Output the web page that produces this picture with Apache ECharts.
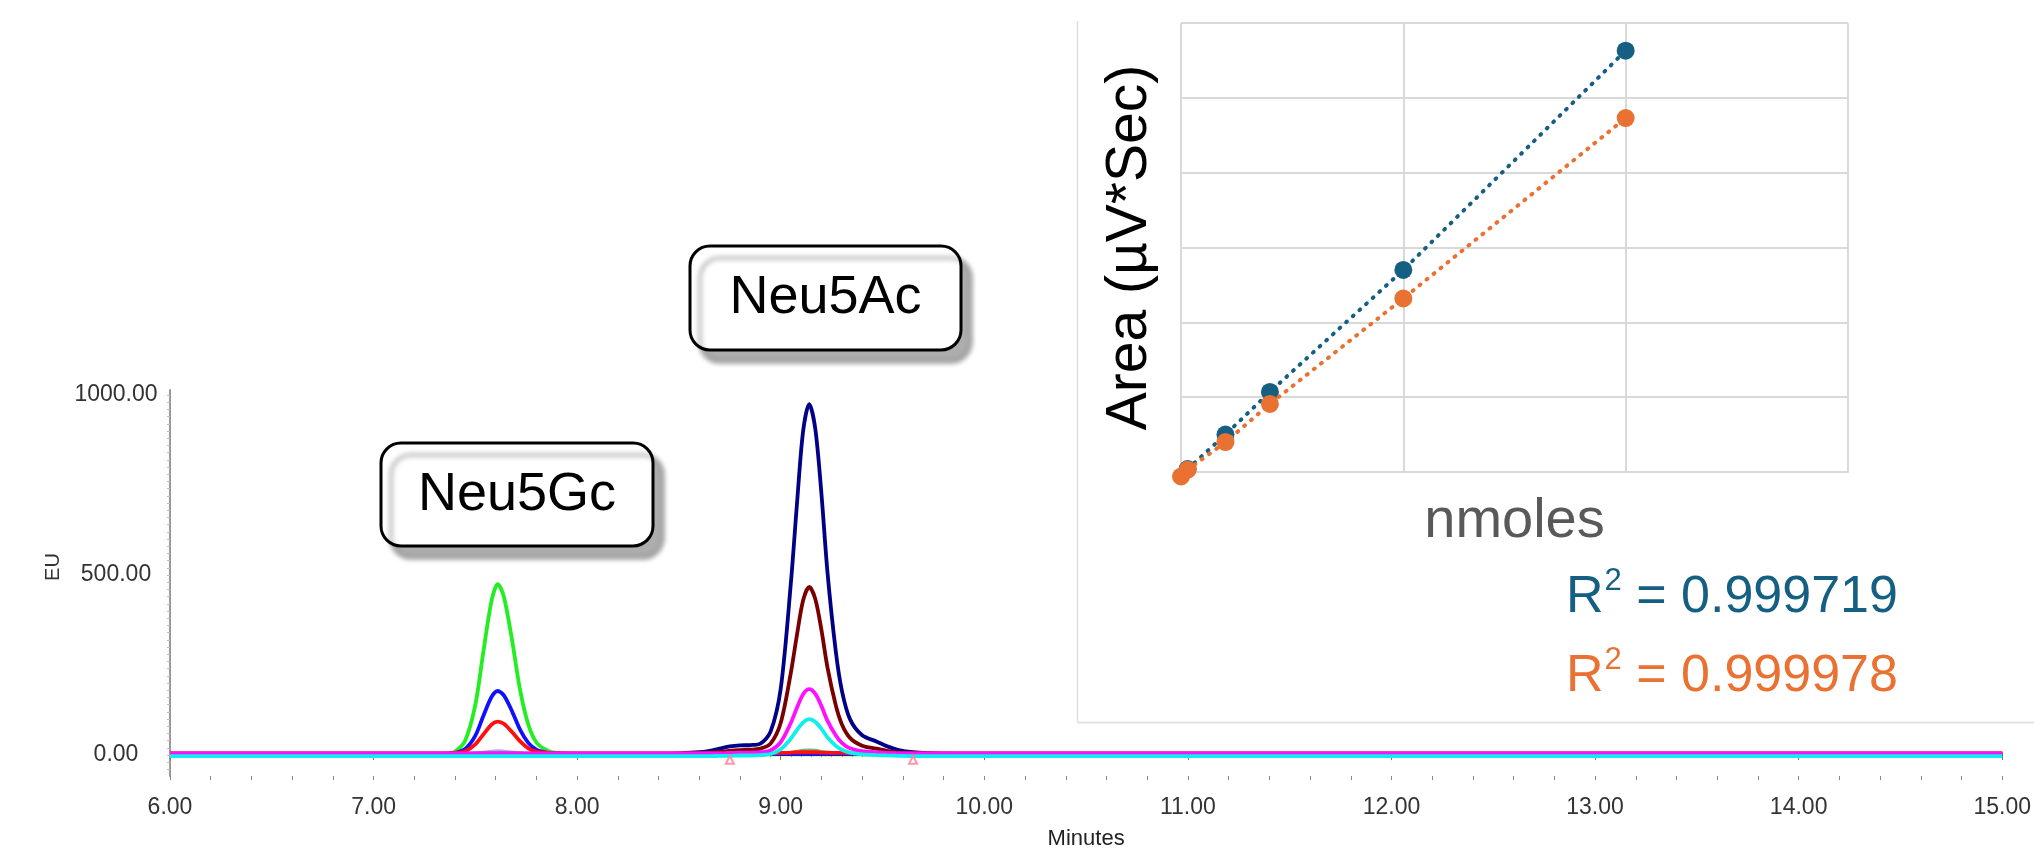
<!DOCTYPE html>
<html>
<head>
<meta charset="utf-8">
<script src="https://cdn.jsdelivr.net/npm/echarts/dist/echarts.min.js"></script>
<style>
html,body{margin:0;padding:0;background:#fff;}
#chart{width:2034px;height:857px;}
</style>
</head>
<body>
<div id="chart"></div>
<script>
// ---------- Chromatogram data (minutes vs EU) ----------
const times = [6.00, 6.50, 7.00, 7.20,
  7.30, 7.36, 7.40, 7.45, 7.50, 7.54, 7.58, 7.61, 7.64, 7.68, 7.72, 7.76, 7.80, 7.85, 7.90, 8.00,
  8.20, 8.40, 8.50,
  8.60, 8.65, 8.70, 8.75, 8.80, 8.85, 8.90, 8.95, 9.00, 9.05, 9.08, 9.11, 9.14, 9.17, 9.20, 9.23, 9.27, 9.30, 9.34, 9.40, 9.47, 9.52, 9.58, 9.65, 9.75,
  10.00, 11.00, 12.00, 13.00, 14.00, 15.00];

const greenTrace = [2, 2, 3, 2,
  2, 4, 10, 40, 140, 290, 430, 475, 440, 320, 180, 85, 35, 14, 6, 3,
  2, 2, 2,
  2, 2, 2, 2, 2, 2, 2, 2, 2, 2, 2, 2, 2, 2, 2, 2, 2, 2, 2, 2, 2, 2, 2, 2, 2,
  2, 2, 2, 2, 2, 2];
const blueTrace = [3, 3, 3, 3,
  3, 3, 6, 17, 54, 110, 162, 178, 166, 122, 70, 34, 15, 7, 4, 3,
  3, 3, 3,
  3, 3, 3, 3, 3, 3, 3, 3, 3, 3, 3, 3, 3, 3, 3, 3, 3, 3, 3, 3, 3, 3, 3, 3, 3,
  3, 3, 3, 3, 3, 3];
const redTrace = [5, 5, 5, 5,
  5, 5, 6, 11, 30, 58, 85, 93, 87, 64, 38, 19, 10, 7, 5, 5,
  5, 5, 5,
  5, 5, 5, 5, 5, 5, 5, 5, 6, 7, 8, 8, 8, 8, 7, 7, 6, 6, 5, 5, 5, 5, 5, 5, 5,
  5, 5, 5, 5, 5, 5];
const lavenderTrace = [3, 3, 3, 3,
  3, 3, 3, 4, 6, 8, 11, 12, 11, 9, 6, 4, 3, 3, 3, 3,
  3, 3, 3,
  3, 3, 3, 3, 3, 3, 3, 3, 3, 3, 3, 3, 3, 3, 3, 3, 3, 3, 3, 3, 3, 3, 3, 3, 3,
  3, 3, 3, 3, 3, 3];
const navyTrace = [4, 4, 4, 4,
  4, 4, 4, 4, 4, 4, 4, 4, 4, 4, 4, 4, 4, 4, 4, 4,
  4, 4, 5,
  8, 12, 18, 24, 27, 28, 32, 65, 185, 480, 700, 900, 975, 905, 725, 505, 290, 180, 100, 55, 38, 25, 14, 8, 5,
  4, 4, 4, 4, 4, 4];
const maroonTrace = [3, 3, 3, 3,
  3, 3, 3, 3, 3, 3, 3, 3, 3, 3, 3, 3, 3, 3, 3, 3,
  3, 3, 3,
  4, 6, 9, 12, 14, 15, 18, 32, 90, 230, 335, 430, 467, 433, 347, 242, 139, 86, 48, 26, 18, 12, 7, 5, 4,
  3, 3, 3, 3, 3, 3];
const magentaTrace = [5, 5, 5, 5,
  5, 5, 5, 5, 5, 5, 5, 5, 5, 5, 5, 5, 5, 5, 5, 5,
  5, 5, 5,
  5, 5, 5, 6, 7, 7, 8, 13, 36, 90, 132, 169, 183, 170, 136, 95, 55, 34, 19, 11, 8, 6, 5, 5, 5,
  5, 5, 5, 5, 5, 5];
const cyanTrace = [-3, -3, -3, -3,
  -3, -3, -3, -3, -3, -3, -3, -3, -3, -3, -3, -3, -3, -3, -3, -3,
  -3, -3, -3,
  -3, -3, -2, -2, -1, -1, 0, 3, 16, 46, 70, 91, 100, 92, 73, 49, 26, 15, 7, 2, 0, -1, -2, -3, -3,
  -3, -3, -3, -3, -3, -3];
const darkGreenTrace = [1, 1, 1, 1,
  1, 1, 1, 1, 1, 1, 1, 1, 1, 1, 1, 1, 1, 1, 1, 1,
  1, 1, 1,
  1, 1, 1, 1, 1, 1, 2, 3, 5, 8, 11, 14, 15, 14, 11, 8, 5, 3, 2, 1, 1, 1, 1, 1, 1,
  1, 1, 1, 1, 1, 1];

// integration markers
const markerTimes = [8.75, 9.65];
const markerValues = [-13, -13];

// axis ticks / labels
const yLabelValues = [0, 500, 1000];
const peakNames = ['Neu5Gc', 'Neu5Ac'];

// ---------- Calibration inset data ----------
const nmolesAc = [0.03, 0.2, 0.4, 1.0, 2.0];
const areaAc = [0.04, 0.50, 1.07, 2.70, 5.63];
const nmolesGc = [0.0, 0.03, 0.2, 0.4, 1.0, 2.0];
const areaGc = [-0.06, 0.03, 0.40, 0.91, 2.32, 4.73];
const r2Ac = '0.999719';
const r2Gc = '0.999978';

const FONT = '"Liberation Sans", Arial, sans-serif';
const yMinorTicks = [];
for (let v = -40; v <= 1000; v += 20) yMinorTicks.push(v);

function pairs(xs, ys) { return xs.map((x, i) => [x, ys[i]]); }

function trace(name, values, color, width, opacity) {
  return {
    type: 'line', name: name, xAxisIndex: 0, yAxisIndex: 0,
    data: pairs(times, values), showSymbol: false, smooth: 0.3,
    lineStyle: { color: color, width: width || 3, opacity: opacity == null ? 1 : opacity },
    itemStyle: { color: color }, z: 3
  };
}

const chart = echarts.init(document.getElementById('chart'), null, { renderer: 'canvas' });

const option = {
  animation: false,
  backgroundColor: '#fff',
  textStyle: { fontFamily: FONT },
  grid: [
    { left: 170, right: 25, top: 390, bottom: 81 },
    { left: 1181, top: 23, width: 667, height: 449 }
  ],
  xAxis: [
    {
      gridIndex: 0, type: 'value', position: 'bottom', min: 6, max: 15, interval: 1,
      name: 'Minutes', nameLocation: 'middle', nameGap: 52,
      nameTextStyle: { fontSize: 22, color: '#222', fontFamily: FONT },
      axisLine: { show: false },
      axisTick: { show: true, length: 5, lineStyle: { color: '#777', width: 1 } },
      minorTick: { show: true, splitNumber: 20, length: 2, lineStyle: { color: '#999', width: 1 } },
      axisLabel: { fontSize: 23, color: '#333', margin: 20, fontFamily: FONT,
        formatter: v => v.toFixed(2) },
      splitLine: { show: false }
    },
    {
      gridIndex: 0, type: 'value', position: 'bottom', offset: 0, min: 6, max: 15, interval: 0.2,
      axisLine: { show: false }, axisLabel: { show: false }, splitLine: { show: false },
      axisTick: { show: true, length: 4, lineStyle: { color: '#888', width: 1 } }
    },
    {
      gridIndex: 1, type: 'value', min: 0, max: 3, interval: 1,
      name: 'nmoles', nameLocation: 'middle', nameGap: 22,
      nameTextStyle: { fontSize: 56, color: '#595959', fontFamily: FONT },
      axisLine: { show: true, lineStyle: { color: '#d9d9d9', width: 2 } },
      axisTick: { show: false }, axisLabel: { show: false },
      splitLine: { show: true, lineStyle: { color: '#d9d9d9', width: 2 } }
    }
  ],
  yAxis: [
    {
      gridIndex: 0, type: 'value', min: -58, max: 1014,
      axisLine: { show: true, lineStyle: { color: '#999', width: 2 } },
      axisTick: { show: true, length: 3, customValues: yMinorTicks, lineStyle: { color: '#bbb', width: 1 } },
      axisLabel: { customValues: yLabelValues, fontSize: 23, color: '#333', margin: 54, align: 'center',
        fontFamily: FONT, formatter: v => v.toFixed(2) },
      splitLine: { show: false }
    },
    {
      gridIndex: 1, type: 'value', min: 0, max: 6, interval: 1,
      name: 'Area (µV*Sec)', nameLocation: 'middle', nameGap: 22,
      nameTextStyle: { fontSize: 57, color: '#000', fontFamily: FONT },
      axisLine: { show: false }, axisTick: { show: false }, axisLabel: { show: false },
      splitLine: { show: true, lineStyle: { color: '#d9d9d9', width: 2 } }
    }
  ],
  series: [
    trace('lavender', lavenderTrace, '#b7a6dd', 3),
    trace('darkgreen', darkGreenTrace, '#3a9a3a', 2.5, 0.7),
    trace('green', greenTrace, '#22ee22', 3.8),
    trace('navy', navyTrace, '#000088', 3.8),
    trace('maroon', maroonTrace, '#7a0000', 3.8),
    trace('blue', blueTrace, '#1010ff', 3.8),
    trace('red', redTrace, '#ff1010', 3.8),
    trace('magenta', magentaTrace, '#ff10ff', 3.8),
    trace('cyan', cyanTrace, '#10eeee', 3.8),
    {
      type: 'scatter', xAxisIndex: 0, yAxisIndex: 0, data: pairs(markerTimes, markerValues),
      symbol: 'emptyTriangle', symbolSize: 8, itemStyle: { color: '#ff7a90', borderWidth: 1 }, z: 4
    },
    {
      type: 'line', name: 'Neu5Ac cal', xAxisIndex: 2, yAxisIndex: 1,
      data: pairs(nmolesAc, areaAc), clip: false,
      symbol: 'circle', symbolSize: 18, showSymbol: true,
      itemStyle: { color: '#156082' },
      lineStyle: { color: '#156082', width: 4, type: [1, 8], cap: 'round' }, z: 3
    },
    {
      type: 'line', name: 'Neu5Gc cal', xAxisIndex: 2, yAxisIndex: 1,
      data: pairs(nmolesGc, areaGc), clip: false,
      symbol: 'circle', symbolSize: 18, showSymbol: true,
      itemStyle: { color: '#E97132' },
      lineStyle: { color: '#E97132', width: 4, type: [1, 8], cap: 'round' }, z: 4
    }
  ],
  graphic: [
    { type: 'line', shape: { x1: 1077.5, y1: 21, x2: 1077.5, y2: 722 }, style: { stroke: '#dddddd', lineWidth: 1.5 }, z: 1 },
    { type: 'line', shape: { x1: 1077, y1: 722.5, x2: 2034, y2: 722.5 }, style: { stroke: '#e3e3e3', lineWidth: 2 }, z: 1 },
    {
      type: 'text', x: 53, y: 567, rotation: Math.PI / 2,
      style: { text: 'EU', fontSize: 20, fontFamily: FONT, fill: '#333', align: 'center', verticalAlign: 'middle' }
    },
    {
      type: 'group', x: 381, y: 443,
      children: [
        { type: 'rect', shape: { x: 0, y: 0, width: 272, height: 103, r: 20 },
          style: { fill: '#fff', stroke: '#000', lineWidth: 3, shadowBlur: 5, shadowColor: 'rgba(0,0,0,0.32)', shadowOffsetX: 10, shadowOffsetY: 12 } },
        { type: 'text', x: 136, y: 52,
          style: { text: peakNames[0], fontSize: 54, fontFamily: FONT, fill: '#000', align: 'center', verticalAlign: 'middle' } }
      ]
    },
    {
      type: 'group', x: 690, y: 246,
      children: [
        { type: 'rect', shape: { x: 0, y: 0, width: 271, height: 104, r: 20 },
          style: { fill: '#fff', stroke: '#000', lineWidth: 3, shadowBlur: 5, shadowColor: 'rgba(0,0,0,0.32)', shadowOffsetX: 10, shadowOffsetY: 12 } },
        { type: 'text', x: 135.5, y: 52,
          style: { text: peakNames[1], fontSize: 54, fontFamily: FONT, fill: '#000', align: 'center', verticalAlign: 'middle' } }
      ]
    },
    {
      type: 'text', x: 1566, y: 598,
      style: {
        text: '{a|R}{s|2}{a| = ' + r2Ac + '}', verticalAlign: 'middle', align: 'left',
        rich: {
          a: { fontSize: 52, fontFamily: FONT, fill: '#156082' },
          s: { fontSize: 31, fontFamily: FONT, fill: '#156082', padding: [0, 0, 34, 1] }
        }
      }
    },
    {
      type: 'text', x: 1566, y: 677,
      style: {
        text: '{a|R}{s|2}{a| = ' + r2Gc + '}', verticalAlign: 'middle', align: 'left',
        rich: {
          a: { fontSize: 52, fontFamily: FONT, fill: '#E97132' },
          s: { fontSize: 31, fontFamily: FONT, fill: '#E97132', padding: [0, 0, 34, 1] }
        }
      }
    }
  ]
};

chart.setOption(option);
</script>
</body>
</html>
